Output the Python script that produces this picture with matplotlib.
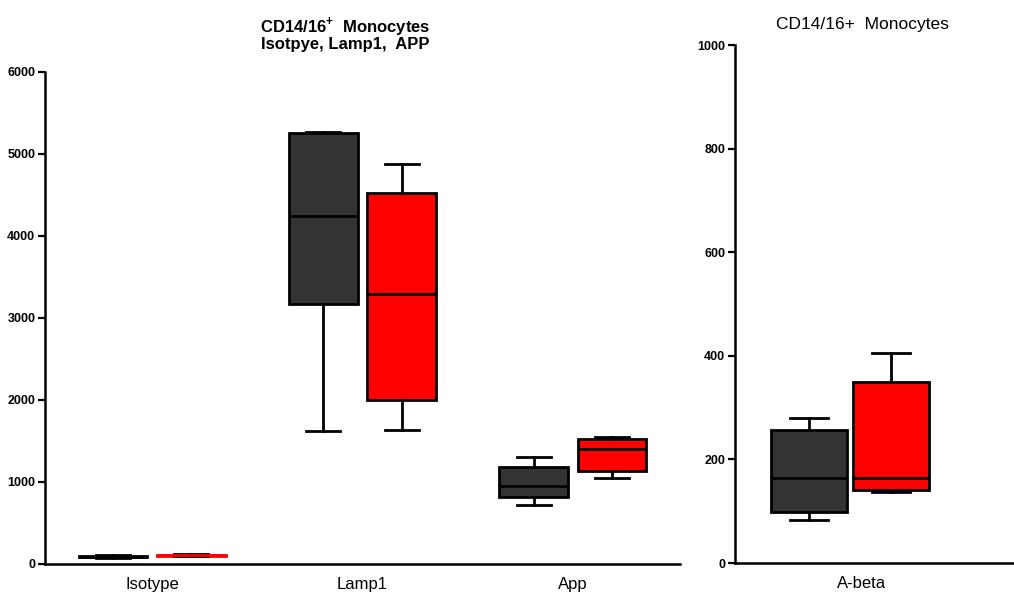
import matplotlib
matplotlib.use("Agg")
import matplotlib.pyplot as plt

plt.rcParams['font.family'] = ['Liberation Sans', 'DejaVu Sans']
plt.rcParams['mathtext.fontset'] = 'custom'
plt.rcParams['mathtext.rm'] = 'Liberation Sans'
plt.rcParams['mathtext.bf'] = 'Liberation Sans:bold'

# ---- data (box stats: whislo, q1, med, q3, whishi) ----
categories = ["Isotype", "Lamp1", "App"]
black_whislo = [75, 1620, 720]
black_q1 = [80, 3170, 817]
black_med = [90, 4245, 955]
black_q3 = [100, 5256, 1183]
black_whishi = [115, 5268, 1305]

red_whislo = [95, 1634, 1049]
red_q1 = [100, 2000, 1134]
red_med = [105, 3293, 1402]
red_q3 = [115, 4524, 1524]
red_whishi = [120, 4878, 1549]

abeta_category = ["A-beta"]
abeta_black = dict(whislo=83, q1=98, med=164, q3=257, whishi=280)
abeta_red = dict(whislo=137, q1=141, med=164, q3=349, whishi=405)

left_yticks = [0, 1000, 2000, 3000, 4000, 5000, 6000]
right_yticks = [0, 200, 400, 600, 800, 1000]

DARK = "#333333"
RED = "#ff0000"
LW = 2.0

fig = plt.figure(figsize=(10.14, 5.95), dpi=100)


def draw(ax, stats, positions, width, color, edge_colors=None):
    for i, (st, pos) in enumerate(zip(stats, positions)):
        ec = edge_colors[i] if edge_colors else "black"
        ax.bxp([st], positions=[pos], widths=width, showfliers=False,
               patch_artist=True,
               boxprops=dict(facecolor=color, edgecolor=ec, linewidth=LW),
               medianprops=dict(color=ec, linewidth=LW),
               whiskerprops=dict(color="black", linewidth=LW),
               capprops=dict(color="black", linewidth=LW),
               capwidths=width * 0.5, manage_ticks=False)


def style(ax):
    for s in ["top", "right"]:
        ax.spines[s].set_visible(False)
    for s in ["left", "bottom"]:
        ax.spines[s].set_linewidth(1.8)
    ax.tick_params(axis="y", direction="out", length=5, width=1.6, pad=2,
                   labelsize=9)
    ax.tick_params(axis="x", length=0, pad=9, labelsize=12)
    for lbl in ax.get_yticklabels():
        lbl.set_fontweight("bold")


# ---- left panel ----
ax1 = fig.add_axes([45 / 1014, (595 - 564) / 595, 635 / 1014, 492 / 595])
off, w = 0.186, 0.325
xs = list(range(len(categories)))
bstats = [dict(whislo=a, q1=b, med=c, q3=d, whishi=e) for a, b, c, d, e in
          zip(black_whislo, black_q1, black_med, black_q3, black_whishi)]
rstats = [dict(whislo=a, q1=b, med=c, q3=d, whishi=e) for a, b, c, d, e in
          zip(red_whislo, red_q1, red_med, red_q3, red_whishi)]
draw(ax1, bstats, [x - off for x in xs], w, DARK)
draw(ax1, rstats, [x + off for x in xs], w, RED,
     edge_colors=[RED, "black", "black"])
ax1.set_xlim(-0.51, 2.51)
ax1.set_ylim(0, 6000)
ax1.set_yticks(left_yticks)
ax1.set_xticks(xs)
ax1.set_xticklabels(categories)
style(ax1)

# ---- right panel ----
ax2 = fig.add_axes([735 / 1014, (595 - 563) / 595, 279 / 1014, 518 / 595])
off2, w2 = 0.2, 0.366
draw(ax2, [abeta_black], [-off2], w2, DARK)
draw(ax2, [abeta_red], [off2], w2, RED)
ax2.set_xlim(-0.561, 0.8)
ax2.set_ylim(0, 1000)
ax2.set_yticks(right_yticks)
ax2.set_xticks([0.055])
ax2.set_xticklabels(abeta_category)
style(ax2)

# ---- titles ----
fig.text(345 / 1014, 1 - 27 / 595, r"CD14/16$^{\mathbf{+}}$  Monocytes",
         ha="center", va="center", fontsize=12, fontweight="bold")
fig.text(345 / 1014, 1 - 45 / 595, "Isotpye, Lamp1,  APP",
         ha="center", va="center", fontsize=12, fontweight="bold")
fig.text(862 / 1014, 1 - 25 / 595, "CD14/16+  Monocytes",
         ha="center", va="center", fontsize=12.5)

fig.savefig("out.png", dpi=100)
